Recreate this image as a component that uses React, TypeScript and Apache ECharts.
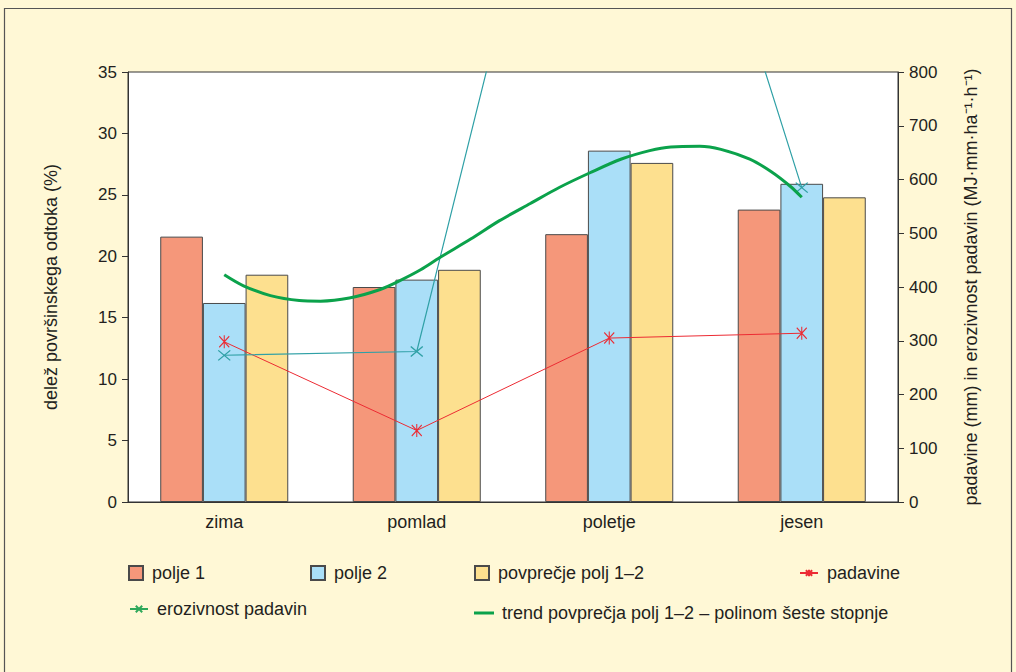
import React, { useEffect, useRef } from "react";
import * as echarts from "echarts";

const categories = ["zima", "pomlad", "poletje", "jesen"];
const polje1 = [21.6, 17.5, 21.8, 23.8];
const polje2 = [16.2, 18.1, 28.6, 25.9];
const povprecje = [18.5, 18.9, 27.6, 24.8];
const padavine = [298, 133, 305, 314];
const erozivnost = [273, 280, 1720, 585];
// trend curve: position along the category axis (0..4) and value (%)
const trendPos = [0.5, 0.6, 0.74, 0.89, 1.0, 1.15, 1.31, 1.41, 1.52, 1.62, 1.78, 1.93, 2.09, 2.24, 2.4, 2.56, 2.71, 2.82, 2.97, 3.08, 3.23, 3.34, 3.44, 3.5];
const trendVal = [18.5, 17.6, 16.8, 16.4, 16.35, 16.6, 17.3, 18.0, 18.9, 19.9, 21.4, 22.9, 24.3, 25.6, 26.8, 27.9, 28.6, 28.9, 28.95, 28.7, 27.9, 26.9, 25.7, 24.8];
const leftTicks = { min: 0, max: 35, interval: 5 };
const rightTicks = { min: 0, max: 800, interval: 100 };

const FONT = "'Liberation Sans', Arial, Helvetica, sans-serif";
const TXT = "#231f20";
const AX = "#333333";
const asterisk = "path://M0,1L10,12M10,1L0,12M5,0L5,13";
const cross = "path://M0,0L12,10M12,0L0,10";

export default function App() {
  const ref = useRef<HTMLDivElement>(null);
  useEffect(() => {
    if (!ref.current) return;
    const chart = echarts.init(ref.current, undefined, { renderer: "svg" });
    const legendText = { fontFamily: FONT, fontSize: 18, color: TXT, lineHeight: 20, padding: [0, 0, 0, 4] };
    const trendData = trendPos.map((p, i) => [p, trendVal[i]]);
    chart.setOption({
      animation: false,
      backgroundColor: "#FFF8D6",
      textStyle: { fontFamily: FONT },
      graphic: [
        {
          type: "rect",
          shape: { x: 4.5, y: 8.5, width: 1007, height: 700 },
          style: { fill: "none", stroke: "#555", lineWidth: 1.2 },
          z: -10,
        },
      ],
      grid: {
        left: 128,
        right: 118,
        top: 72,
        bottom: 170,
        show: true,
        backgroundColor: "#ffffff",
        borderColor: AX,
        borderWidth: 1,
      },
      xAxis: [
        {
          type: "category",
          data: categories,
          axisLine: { lineStyle: { color: AX, width: 1 } },
          axisTick: { show: false },
          axisLabel: { fontFamily: FONT, fontSize: 18, color: TXT, margin: 11 },
        },
        { type: "value", min: 0, max: 4, show: false },
      ],
      yAxis: [
        {
          type: "value",
          ...leftTicks,
          position: "left",
          name: "delež površinskega odtoka (%)",
          nameLocation: "middle",
          nameRotate: 90,
          nameGap: 68,
          nameTextStyle: { fontFamily: FONT, fontSize: 18, color: TXT },
          axisLine: { show: true, lineStyle: { color: AX } },
          axisTick: { show: true, length: 6, lineStyle: { color: AX } },
          axisLabel: { fontFamily: FONT, fontSize: 17, color: TXT, margin: 11 },
          splitLine: { show: false },
        },
        {
          type: "value",
          ...rightTicks,
          position: "right",
          name: "padavine (mm) in erozivnost padavin (MJ·mm·ha⁻¹·h⁻¹)",
          nameLocation: "middle",
          nameRotate: 90,
          nameGap: 64,
          nameTextStyle: { fontFamily: FONT, fontSize: 18, color: TXT },
          axisLine: { show: true, lineStyle: { color: AX } },
          axisTick: { show: true, length: 6, lineStyle: { color: AX } },
          axisLabel: { fontFamily: FONT, fontSize: 17, color: TXT, margin: 11 },
          splitLine: { show: false },
        },
      ],
      legend: [
        { data: [{ name: "polje 1", icon: "rect" }], left: 128, top: 563, padding: 0, itemWidth: 14, itemHeight: 14, textStyle: legendText },
        { data: [{ name: "polje 2", icon: "rect" }], left: 310, top: 563, padding: 0, itemWidth: 14, itemHeight: 14, textStyle: legendText },
        { data: [{ name: "povprečje polj 1–2", icon: "rect" }], left: 474, top: 563, padding: 0, itemWidth: 14, itemHeight: 14, textStyle: legendText },
        { data: ["padavine"], left: 799, top: 563, padding: 0, itemWidth: 18, itemHeight: 8, textStyle: legendText },
        {
          data: [{ name: "erozivnost padavin", itemStyle: { color: "#2EA85A", borderColor: "#2EA85A" }, lineStyle: { color: "#2EA85A" } }],
          left: 129, top: 599, padding: 0, itemWidth: 18, itemHeight: 8, textStyle: legendText,
        },
        {
          data: [{ name: "trend povprečja polj 1–2 – polinom šeste stopnje", icon: "rect" }],
          left: 474, top: 603, padding: 0, itemWidth: 20, itemHeight: 3, textStyle: { ...legendText, padding: [0, 0, 0, 3] },
        },
      ],
      series: [
        {
          name: "polje 1",
          type: "bar",
          data: polje1,
          barGap: "0%",
          barCategoryGap: "33.5%",
          itemStyle: { color: "#F5977A", borderColor: "#4a4a4a", borderWidth: 1 },
        },
        {
          name: "polje 2",
          type: "bar",
          data: polje2,
          itemStyle: { color: "#AADFF8", borderColor: "#4a4a4a", borderWidth: 1 },
        },
        {
          name: "povprečje polj 1–2",
          type: "bar",
          data: povprecje,
          itemStyle: { color: "#FDE08F", borderColor: "#4a4a4a", borderWidth: 1 },
        },
        {
          name: "trend povprečja polj 1–2 – polinom šeste stopnje",
          type: "line",
          xAxisIndex: 1,
          yAxisIndex: 0,
          data: trendData,
          smooth: 0.3,
          showSymbol: false,
          symbol: "none",
          lineStyle: { color: "#0BA24B", width: 3 },
          itemStyle: { color: "#0BA24B" },
          z: 5,
        },
        {
          name: "padavine",
          type: "line",
          yAxisIndex: 1,
          data: padavine,
          symbol: asterisk,
          symbolSize: [10, 13],
          lineStyle: { color: "#EC2B33", width: 1 },
          itemStyle: { color: "#EC2B33", borderColor: "#EC2B33", borderWidth: 1.2 },
          clip: true,
          z: 4,
        },
        {
          name: "erozivnost padavin",
          type: "line",
          yAxisIndex: 1,
          data: erozivnost,
          symbol: cross,
          symbolSize: [12, 10],
          lineStyle: { color: "#2FA0A6", width: 1.2 },
          itemStyle: { color: "#2FA0A6", borderColor: "#2FA0A6", borderWidth: 1.2 },
          clip: true,
          z: 4,
        },
      ],
    });
    return () => chart.dispose();
  }, []);
  return <div ref={ref} style={{ position: "fixed", left: 0, top: 0, width: 1016, height: 672 }} />;
}
